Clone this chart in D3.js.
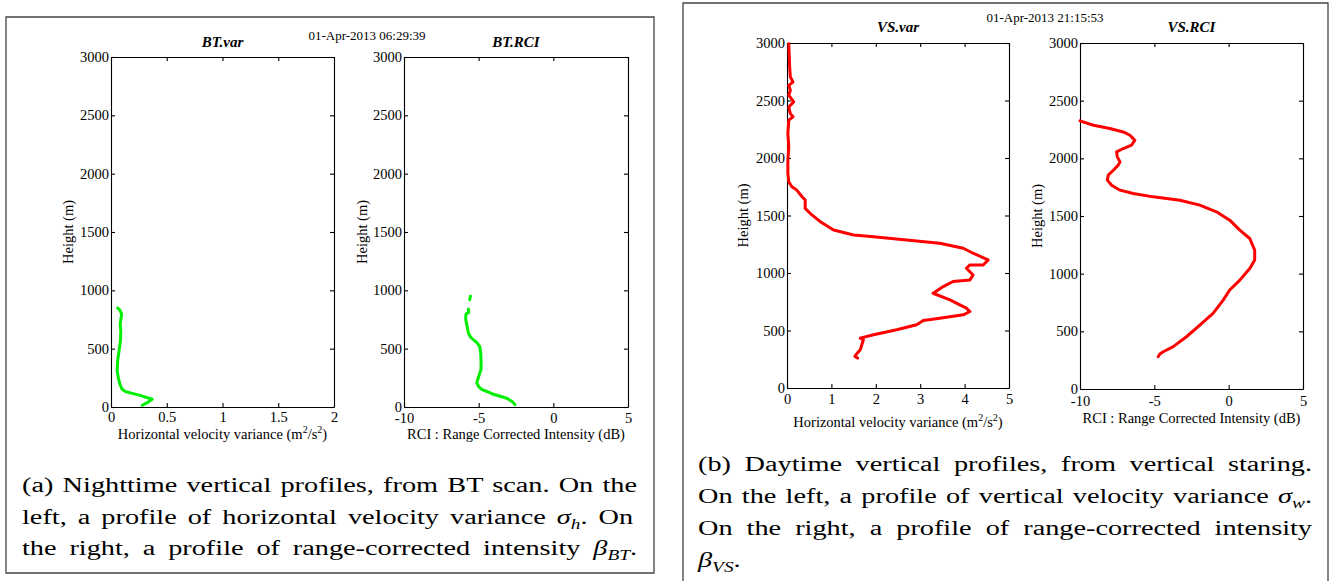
<!DOCTYPE html>
<html>
<head>
<meta charset="utf-8">
<script src="https://cdn.jsdelivr.net/npm/d3@7"></script>
<style>
  body { margin: 0; background: #fff; }
  svg { display: block; }
</style>
</head>
<body>
<div id="chart"></div>
<script>
// ---- data ----
// tick labels
const heightTicks = [0, 500, 1000, 1500, 2000, 2500, 3000];
const btVarTicks = [0, 0.5, 1, 1.5, 2];
const vsVarTicks = [0, 1, 2, 3, 4, 5];
const rciTicks = [-10, -5, 0, 5];

// BT scan, night (green)
const btVarHeight = [15, 40, 66, 100, 132, 152, 195, 250, 310, 400, 480, 570, 650, 710, 760, 797, 830, 849];
const btVarValue = [0.28, 0.33, 0.37, 0.26, 0.13, 0.10, 0.08, 0.066, 0.055, 0.06, 0.072, 0.085, 0.088, 0.082, 0.09, 0.096, 0.08, 0.06];

const btRciHeight = [20, 37, 50, 75, 90, 109, 125, 152, 175, 209, 240, 280, 324, 395, 460, 520, 553, 570, 600, 640, 682, 720, 754, 797, 811, 840, 880, 920, 950];
const btRciValue = [-2.57, -2.68, -2.8, -3.12, -3.5, -4.02, -4.3, -4.8, -5.0, -5.13, -5.05, -4.95, -4.84, -4.84, -4.86, -4.93, -5.13, -5.3, -5.55, -5.7, -5.76, -5.82, -5.87, -5.85, -5.67, -5.69, null, -5.6, -5.55];

// vertical staring, day (red)
const vsVarHeight = [260, 275, 298, 333, 420, 434, 463, 506, 550, 587, 607, 636, 665, 694, 767, 824, 882, 926, 940, 983, 1041, 1070, 1070, 1114, 1172, 1215, 1258, 1287, 1316, 1331, 1374, 1446, 1519, 1562, 1634, 1663, 1721, 1750, 1793, 1866, 1982, 2097, 2213, 2329, 2358, 2386, 2444, 2488, 2546, 2589, 2632, 2661, 2705, 2791, 2994];
const vsVarValue = [1.59, 1.53, 1.57, 1.65, 1.72, 1.65, 1.95, 2.47, 2.92, 3.07, 3.44, 3.97, 4.12, 4.04, 3.67, 3.29, 3.52, 3.74, 4.12, 4.19, 4.04, 4.12, 4.42, 4.53, 4.19, 3.97, 3.44, 2.69, 1.95, 1.50, 1.05, 0.75, 0.52, 0.41, 0.41, 0.34, 0.22, 0.11, 0.04, 0.02, 0.02, 0.04, 0.02, 0.04, 0.135, 0.075, 0.04, 0.15, 0.04, 0.075, 0.04, 0.135, 0.075, 0.06, 0.04];

const vsRciHeight = [280, 303, 323, 367, 453, 554, 656, 771, 858, 944, 1045, 1118, 1204, 1305, 1377, 1464, 1536, 1594, 1637, 1666, 1695, 1724, 1767, 1811, 1854, 1897, 1941, 1969, 2013, 2056, 2085, 2114, 2157, 2200, 2229, 2258, 2287, 2325];
const vsRciValue = [-4.74, -4.63, -4.40, -3.73, -2.84, -1.94, -1.05, -0.37, 0.07, 0.75, 1.42, 1.75, 1.75, 1.42, 0.75, 0.07, -0.82, -1.94, -3.28, -5.08, -6.42, -7.31, -7.87, -8.16, -8.10, -7.76, -7.43, -7.31, -7.49, -7.54, -7.09, -6.53, -6.31, -6.64, -7.09, -7.99, -9.10, -10];

// captions
const captionA = [
    [{t: "(a) Nighttime vertical profiles, from BT scan. On the"}],
    [{t: "left, a profile of horizontal velocity variance "}, {t: "σ", it: true}, {t: "h", it: true, sub: true}, {t: ".  On"}],
    [{t: "the right, a profile of range-corrected intensity "}, {t: "β", it: true}, {t: "BT", it: true, sub: true}, {t: "."}]
];
const captionB = [
    [{t: "(b) Daytime vertical profiles, from vertical staring."}],
    [{t: "On the left, a profile of vertical velocity variance "}, {t: "σ", it: true}, {t: "w", it: true, sub: true}, {t: "."}],
    [{t: "On the right, a profile of range-corrected intensity"}],
    [{t: "β", it: true}, {t: "VS", it: true, sub: true}, {t: "."}]
];

const width = 1333, height = 581;
const svg = d3.select("#chart").append("svg")
    .attr("width", width)
    .attr("height", height)
    .attr("font-family", "Liberation Serif");

// frames round the two sub-figures
svg.append("path")
    .attr("d", "M6,17H654V573H6Z")
    .attr("fill", "none")
    .attr("stroke", "#444")
    .attr("stroke-width", 1.3);
svg.append("path")
    .attr("d", "M683,590V3H1328V590")
    .attr("fill", "none")
    .attr("stroke", "#444")
    .attr("stroke-width", 1.3);

function zip(hs, vs) {
    return hs.map(function(h, i) { return {h: h, v: vs[i]}; });
}

function styleAxis(g) {
    g.attr("font-family", "Liberation Serif");
    g.selectAll("path.domain, line").attr("stroke", "#000").attr("stroke-width", 1.1);
    g.selectAll("text")
        .attr("font-size", 14.5)
        .attr("fill", "#000");
}

function drawProfile(p) {
    const x = d3.scaleLinear().domain(p.xDomain).range([p.left, p.right]);
    const y = d3.scaleLinear().domain([0, 3000]).range([p.bottom, p.top]);
    const g = svg.append("g");

    const fmt = function(d) { return String(d); };

    g.append("g")
        .attr("transform", "translate(" + p.left + ",0)")
        .call(d3.axisLeft(y).tickValues(heightTicks).tickFormat(fmt)
            .tickSizeInner(-4).tickSizeOuter(0).tickPadding(2))
        .call(styleAxis);
    g.append("g")
        .attr("transform", "translate(" + p.right + ",0)")
        .call(d3.axisRight(y).tickValues(heightTicks).tickFormat("")
            .tickSizeInner(-4).tickSizeOuter(0))
        .call(styleAxis);
    g.append("g")
        .attr("transform", "translate(0," + p.bottom + ")")
        .call(d3.axisBottom(x).tickValues(p.xTicks).tickFormat(fmt)
            .tickSizeInner(-4).tickSizeOuter(0).tickPadding(p.tickPad))
        .call(styleAxis);
    g.append("g")
        .attr("transform", "translate(0," + p.top + ")")
        .call(d3.axisTop(x).tickValues(p.xTicks).tickFormat("")
            .tickSizeInner(-4).tickSizeOuter(0))
        .call(styleAxis);

    // profile line
    const line = d3.line()
        .defined(function(d) { return d.v != null; })
        .x(function(d) { return x(d.v); })
        .y(function(d) { return y(d.h); });
    g.append("path")
        .datum(zip(p.heights, p.values))
        .attr("fill", "none")
        .attr("stroke", p.color)
        .attr("stroke-width", 3)
        .attr("stroke-linejoin", "round")
        .attr("stroke-linecap", "round")
        .attr("d", line);

    // title
    g.append("text")
        .attr("x", (p.left + p.right) / 2)
        .attr("y", p.titleY)
        .attr("text-anchor", "middle")
        .attr("font-size", 15)
        .attr("font-weight", "bold")
        .attr("font-style", "italic")
        .text(p.title);

    // y label
    g.append("text")
        .attr("transform", "translate(" + p.yLabelX + "," + (p.top + p.bottom) / 2 + ") rotate(-90)")
        .attr("text-anchor", "middle")
        .attr("font-size", 14.5)
        .text("Height (m)");

    // x label
    const xl = g.append("text")
        .attr("x", (p.left + p.right) / 2)
        .attr("y", p.xLabelY)
        .attr("text-anchor", "middle")
        .attr("font-size", 14.5);
    if (p.squared) {
        xl.append("tspan").text("Horizontal velocity variance (m");
        xl.append("tspan").attr("dy", -6).attr("font-size", 10).text("2");
        xl.append("tspan").attr("dy", 6).text("/s");
        xl.append("tspan").attr("dy", -6).attr("font-size", 10).text("2");
        xl.append("tspan").attr("dy", 6).text(")");
    } else {
        xl.text("RCI : Range Corrected Intensity (dB)");
    }
}

const green = "#00ee00", red = "#ff0000";

drawProfile({left: 111, right: 334, top: 57, bottom: 407, xDomain: [0, 2], xTicks: btVarTicks,
    heights: btVarHeight, values: btVarValue, color: green, title: "BT.var", titleY: 47,
    yLabelX: 73, xLabelY: 439, tickPad: 5, squared: true});
drawProfile({left: 404, right: 628, top: 57, bottom: 407, xDomain: [-10, 5], xTicks: rciTicks,
    heights: btRciHeight, values: btRciValue, color: green, title: "BT.RCI", titleY: 47,
    yLabelX: 367, xLabelY: 439, tickPad: 6, squared: false});
drawProfile({left: 787, right: 1009, top: 43, bottom: 388, xDomain: [0, 5], xTicks: vsVarTicks,
    heights: vsVarHeight, values: vsVarValue, color: red, title: "VS.var", titleY: 32,
    yLabelX: 748, xLabelY: 427, tickPad: 6, squared: true});
drawProfile({left: 1080, right: 1303, top: 43, bottom: 389, xDomain: [-10, 5], xTicks: rciTicks,
    heights: vsRciHeight, values: vsRciValue, color: red, title: "VS.RCI", titleY: 32,
    yLabelX: 1042, xLabelY: 423, tickPad: 7, squared: false});

// time stamps
svg.append("text").attr("x", 367).attr("y", 40).attr("text-anchor", "middle")
    .attr("font-size", 13).text("01-Apr-2013 06:29:39");
svg.append("text").attr("x", 1045).attr("y", 22).attr("text-anchor", "middle")
    .attr("font-size", 13).text("01-Apr-2013 21:15:53");

// justified captions, widened to mimic the broader LaTeX face
function drawCaption(lines, x0, x1, y0, lh, nJustified) {
    const sx = 1.38;
    lines.forEach(function(parts, i) {
        const g = svg.append("g")
            .attr("transform", "translate(" + x0 + "," + (y0 + i * lh) + ") scale(" + sx + ",1)");
        const t = g.append("text").attr("font-size", 20.5);
        let shifted = false;
        parts.forEach(function(p) {
            const s = t.append("tspan").text(p.t);
            if (p.it) s.attr("font-style", "italic");
            if (p.sub) { s.attr("font-size", 14).attr("dy", 5); shifted = true; }
            else if (shifted) { s.attr("dy", -5); shifted = false; }
        });
        if (i < nJustified) {
            const natural = t.node().getComputedTextLength();
            const full = parts.map(function(p) { return p.t; }).join("");
            const spaces = (full.match(/ /g) || []).length;
            const target = (x1 - x0) / sx;
            if (spaces > 0) t.attr("word-spacing", (target - natural) / spaces);
        }
    });
}

drawCaption(captionA, 22, 637, 492, 31.5, 3);
drawCaption(captionB, 698, 1312, 471, 32, 3);
</script>
</body>
</html>
